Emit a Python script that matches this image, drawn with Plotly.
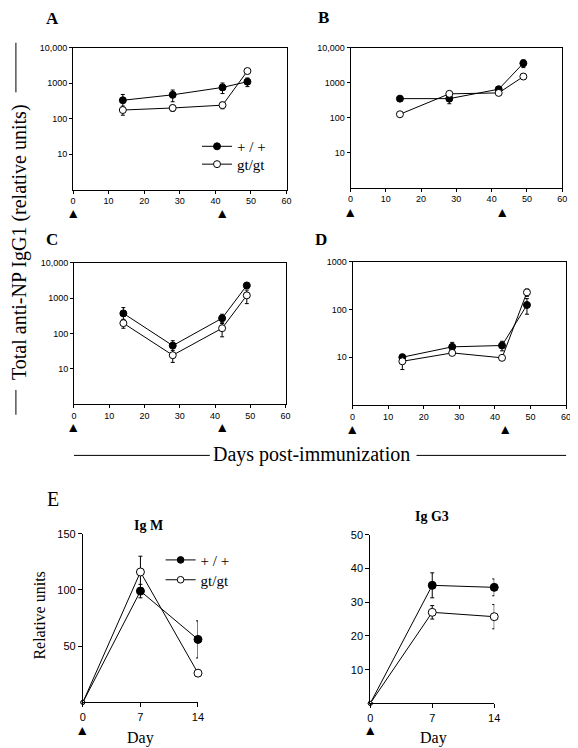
import plotly.graph_objects as go

# page body has an 8px margin; lay out in reference-pixel coordinates
OFF = 8
W, H = 570, 740
def px(x): return (x - OFF) / W
def py(y): return 1 - (y - OFF) / H

# ---------------- data ----------------
days = [14, 28, 42, 49]
immun_AC = [0, 42]
immun_BD = [0, 43]

A_wt = [330, 470, 760, 1100]
A_wt_err = [150, 170, 250, 300]
A_gt = [175, 200, 240, 2200]
A_gt_err = [50, 40, 50, 300]

B_wt = [350, 350, 650, 3600]
B_wt_err = [60, 100, 80, 900]
B_gt = [125, 480, 510, 1500]
B_gt_err = [15, 60, 50, 250]

C_wt = [370, 45, 270, 2300]
C_wt_err = [170, 17, 80, 300]
C_gt = [195, 24, 140, 1200]
C_gt_err = [55, 9, 60, 500]

D_wt = [10, 16.5, 17.6, 125]
D_wt_err = [1.5, 4, 4, 45]
D_gt = [8.2, 12.3, 9.7, 230]
D_gt_err = [2.7, 1, 0.8, 40]

E_days = [0, 7, 14]
IgM_wt = [0, 99, 56]
IgM_wt_err = [0, 6, 16.5]
IgM_gt = [0, 116, 26]
IgM_gt_err = [0, 14, 2]

IgG3_wt = [0, 35, 34.4]
IgG3_wt_err = [0, 3.7, 2.5]
IgG3_gt = [0, 27, 25.7]
IgG3_gt_err = [0, 2, 3.6]

log_ticks = [10, 100, 1000, 10000]
log_ticktext = ["10", "100", "1000", "10,000"]
log_ticks_D = [10, 100, 1000]
log_ticktext_D = ["10", "100", "1000"]
x_ticks = [0, 10, 20, 30, 40, 50, 60]
e_xticks = [0, 7, 14]

SERIF = "Liberation Serif"
SANS = "Liberation Sans"

fig = go.Figure()

def add_pair(xa, ya, wt, wte, gt, gte, x=days, legends=None, sizes=None):
    sz = sizes if sizes is not None else 7
    show = legends is not None
    lw, lg = legends if show else ("legend", "legend")
    fig.add_trace(go.Scatter(
        x=x, y=wt, xaxis=xa, yaxis=ya, mode="lines+markers",
        name="+ / +", showlegend=show, legend=lw,
        line=dict(color="black", width=1),
        marker=dict(color="black", size=sz, opacity=1, line=dict(color="black", width=1)),
        error_y=dict(type="data", array=wte, color="black", thickness=1, width=2),
        cliponaxis=False))
    fig.add_trace(go.Scatter(
        x=x, y=gt, xaxis=xa, yaxis=ya, mode="lines+markers",
        name="gt/gt", showlegend=show, legend=lg,
        line=dict(color="black", width=1),
        marker=dict(color="white", size=sz, opacity=1, line=dict(color="black", width=1)),
        error_y=dict(type="data", array=gte, color="black", thickness=1, width=2),
        cliponaxis=False))

add_pair("x", "y", A_wt, A_wt_err, A_gt, A_gt_err, legends=("legend", "legend3"))
add_pair("x2", "y2", B_wt, B_wt_err, B_gt, B_gt_err)
add_pair("x3", "y3", C_wt, C_wt_err, C_gt, C_gt_err)
add_pair("x4", "y4", D_wt, D_wt_err, D_gt, D_gt_err)
add_pair("x5", "y5", IgM_wt, IgM_wt_err, IgM_gt, IgM_gt_err, x=E_days,
         legends=("legend2", "legend4"), sizes=[4, 8, 8])
add_pair("x6", "y6", IgG3_wt, IgG3_wt_err, IgG3_gt, IgG3_gt_err, x=E_days,
         sizes=[4, 8, 8])

def box_x(dom, anchor):
    return dict(domain=[px(dom[0]), px(dom[1])], anchor=anchor, range=[0, 60],
                tickvals=x_ticks, ticks="outside", ticklen=3, tickwidth=1,
                tickcolor="black", showline=True, linecolor="black", linewidth=1,
                mirror=True, showgrid=False, zeroline=False,
                tickfont=dict(family=SANS, size=9, color="black"))

def box_y(dom, anchor, rng, tv, tt):
    return dict(domain=[py(dom[1]), py(dom[0])], anchor=anchor, type="log",
                range=rng, tickvals=tv, ticktext=tt, ticks="outside", ticklen=3,
                tickwidth=1, tickcolor="black", showline=True, linecolor="black",
                linewidth=1, mirror=True, showgrid=False, zeroline=False,
                tickfont=dict(family=SANS, size=9, color="black"))

def e_x(dom, anchor):
    return dict(domain=[px(dom[0]), px(dom[1])], anchor=anchor, range=[0, 14],
                tickvals=e_xticks, ticks="outside", ticklen=4, tickwidth=1,
                tickcolor="black", showline=True, linecolor="black", linewidth=1,
                showgrid=False, zeroline=False,
                tickfont=dict(family=SANS, size=11, color="black"))

def e_y(dom, anchor, rng, tv):
    return dict(domain=[py(dom[1]), py(dom[0])], anchor=anchor, range=rng,
                tickvals=tv, ticks="outside", ticklen=4, tickwidth=1,
                tickcolor="black", showline=True, linecolor="black", linewidth=1,
                showgrid=False, zeroline=False,
                tickfont=dict(family=SANS, size=11, color="black"))

def leg(x, y):
    return dict(x=px(x), y=py(y), xanchor="left", yanchor="top",
                font=dict(family=SERIF, size=15, color="black"),
                bgcolor="rgba(0,0,0,0)", tracegroupgap=0, itemwidth=30)

fig.update_layout(
    width=W, height=H, margin=dict(l=0, r=0, t=0, b=0),
    paper_bgcolor="white", plot_bgcolor="white",
    xaxis=box_x((71, 288), "y"),
    yaxis=box_y((42, 185), "x", [0, 4], log_ticks, log_ticktext),
    xaxis2=box_x((353, 568), "y2"),
    yaxis2=box_y((42, 183), "x2", [0, 4], log_ticks, log_ticktext),
    xaxis3=box_x((72, 287), "y3"),
    yaxis3=box_y((259, 401), "x3", [0, 4], log_ticks, log_ticktext),
    xaxis4=box_x((355, 572), "y4"),
    yaxis4=box_y((258, 402), "x4", [0, 3], log_ticks_D, log_ticktext_D),
    xaxis5=e_x((81, 198), "y5"),
    yaxis5=e_y((532, 702), "x5", [0, 150], [50, 100, 150]),
    xaxis6=e_x((373, 499), "y6"),
    yaxis6=e_y((533, 703), "x6", [0, 50], [10, 20, 30, 40, 50]),
    legend=leg(197, 125),
    legend3=leg(197, 143),
    legend2=leg(160, 542),
    legend4=leg(160, 562),
)

ann = []
def text(x, y, s, size, bold=False, angle=0, family=SERIF, xanchor="center"):
    ann.append(dict(x=px(x), y=py(y), xref="paper", yref="paper", text=(f"<b>{s}</b>" if bold else s),
                    showarrow=False, font=dict(family=family, size=size, color="black"),
                    textangle=angle, xanchor=xanchor, yanchor="middle"))

text(50, 13, "A", 17, bold=True)
text(326, 12, "B", 17, bold=True)
text(50, 235, "C", 17, bold=True)
text(323, 235, "D", 17, bold=True)
text(51, 497, "E", 20)
text(148, 524, "Ig M", 14, bold=True)
text(436, 515, "Ig G3", 14, bold=True)
text(37, 615, "Relative units", 16, angle=-90)
text(140, 738, "Day", 16)
text(437, 738, "Day", 16)
text(313, 452, "Days post-immunization", 20)
text(16, 238, "Total anti-NP IgG1 (relative units)", 20, angle=-90)

# immunization arrowheads, positioned via each panel's x axis
def tri(xref, xs, ypx):
    for d in xs:
        ann.append(dict(x=d, y=py(ypx), xref=xref, yref="paper", text="▲", showarrow=False,
                        font=dict(family="DejaVu Sans", size=11, color="black"),
                        height=10, xanchor="center", yanchor="middle"))
tri("x", immun_AC, 209)
tri("x2", immun_BD, 208)
tri("x3", immun_AC, 424)
tri("x4", immun_BD, 426)
tri("x5", [0], 730)
tri("x6", [0], 730)

fig.update_layout(annotations=ann)

shapes = []
def seg(x0, y0, x1, y1):
    shapes.append(dict(type="line", xref="paper", yref="paper", x0=px(x0), y0=py(y0),
                       x1=px(x1), y1=py(y1), line=dict(color="black", width=1)))
seg(13, 37, 13, 87)
seg(13, 387, 13, 412)
seg(72, 453, 210, 453)
seg(420, 453, 572, 453)
fig.update_layout(shapes=shapes)

fig.write_html("out.html")
